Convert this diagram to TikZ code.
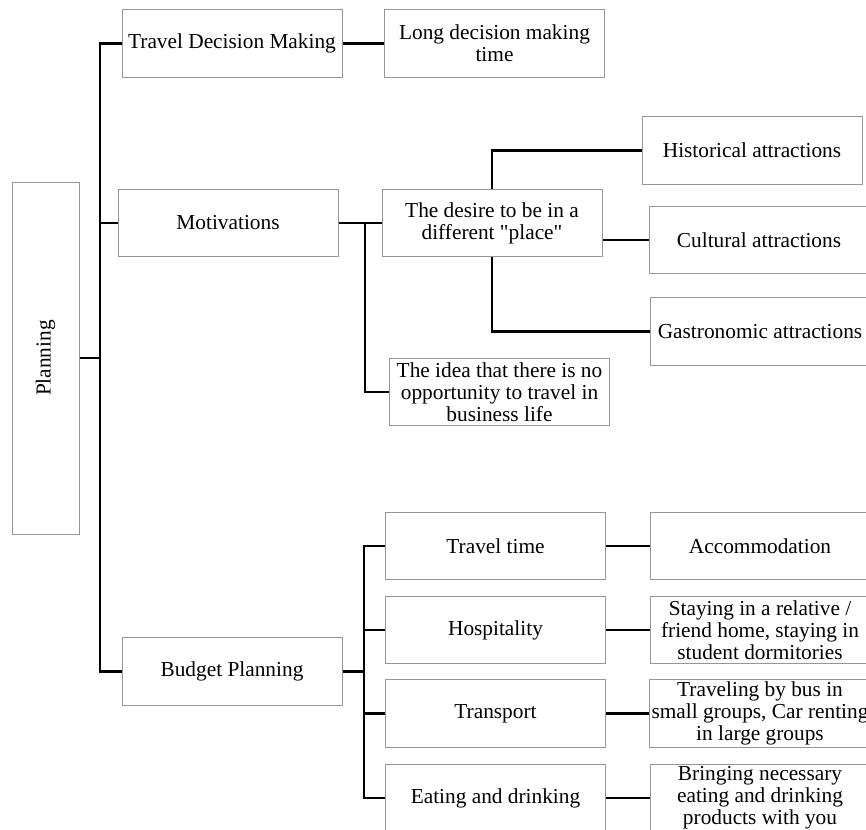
\documentclass[tikz,border=0pt]{standalone}
\usepackage{fontspec}
\setmainfont{Liberation Serif}
\usepackage{xcolor}
\usetikzlibrary{positioning}
\definecolor{boxGray}{HTML}{969696}

\tikzset{
  box/.style={draw=boxGray, line width=0.6pt, minimum width=132pt, minimum height=40.5pt,
    inner sep=1pt, align=center, fill=white},
  link/.style={line width=1.7pt, black},
}

\begin{document}
\begin{tikzpicture}[x=0.6pt, y=-0.6pt, font=\fontsize{12.8}{13.3}\selectfont]
  \clip (0,0) rectangle (866,829);
  % root, standing on its side
  \node[box, rotate=90, minimum width=211.2pt, minimum height=40.2pt] (plan) at (45.5,358) {Planning};
  % first level
  \node[box] (tdm) at (232,43.5) {Travel Decision Making};
  \node[box] (mot) at (228,223) {Motivations};
  \node[box] (bud) at (232,671.5) {Budget Planning};
  % decision making
  \node[box] (ldm) at (494.5,43.5) {Long decision making\\time};
  % motivations
  \node[box] (des) at (492,223) {The desire to be in a\\different \textquotedbl place\textquotedbl};
  \node[box] (idea) at (499.5,392) {The idea that there is no\\opportunity to travel in\\business life};
  \node[box] (hist) at (752,150.5) {Historical attractions};
  \node[box] (cult) at (759,240) {Cultural attractions};
  \node[box] (gast) at (760,331.5) {Gastronomic attractions};
  % budget
  \node[box] (tt) at (495.5,546) {Travel time};
  \node[box] (hosp) at (495.5,630) {Hospitality};
  \node[box] (trans) at (495.5,713.5) {Transport};
  \node[box] (eat) at (495.5,798) {Eating and drinking};
  \node[box] (acc) at (760,546) {Accommodation};
  \node[box] (stay) at (760,630) {Staying in a relative /\\friend home, staying in\\student dormitories};
  \node[box] (bus) at (760,713.5) {Traveling by bus in\\small groups, Car renting\\in large groups};
  \node[box] (bring) at (760,798) {Bringing necessary\\eating and drinking\\products with you};

  % junction points of the trunk lines
  \coordinate (trunk) at (100,358);
  \coordinate (mj) at (365,223);
  \coordinate (bj) at (364,671.5);

  \draw[link] (plan.south) -- (trunk);
  \foreach \n in {tdm, mot, bud}
    \draw[link] (trunk) |- (\n.west);
  \draw[link] (tdm.east) -- (ldm.west);
  % motivations branch
  \draw[link] (mot.east) -- (des.west);
  \draw[link] (mj) |- (idea.west);
  \draw[link] (des.north) |- (hist.west);
  \draw[link] (des.east |- cult.west) -- (cult.west);
  \draw[link] (des.south) |- (gast.west);
  % budget branch
  \draw[link] (bud.east) -- (bj);
  \foreach \n/\m in {tt/acc, hosp/stay, trans/bus, eat/bring} {
    \draw[link] (bj) |- (\n.west);
    \draw[link] (\n.east) -- (\m.west);
  }
\end{tikzpicture}
\end{document}
